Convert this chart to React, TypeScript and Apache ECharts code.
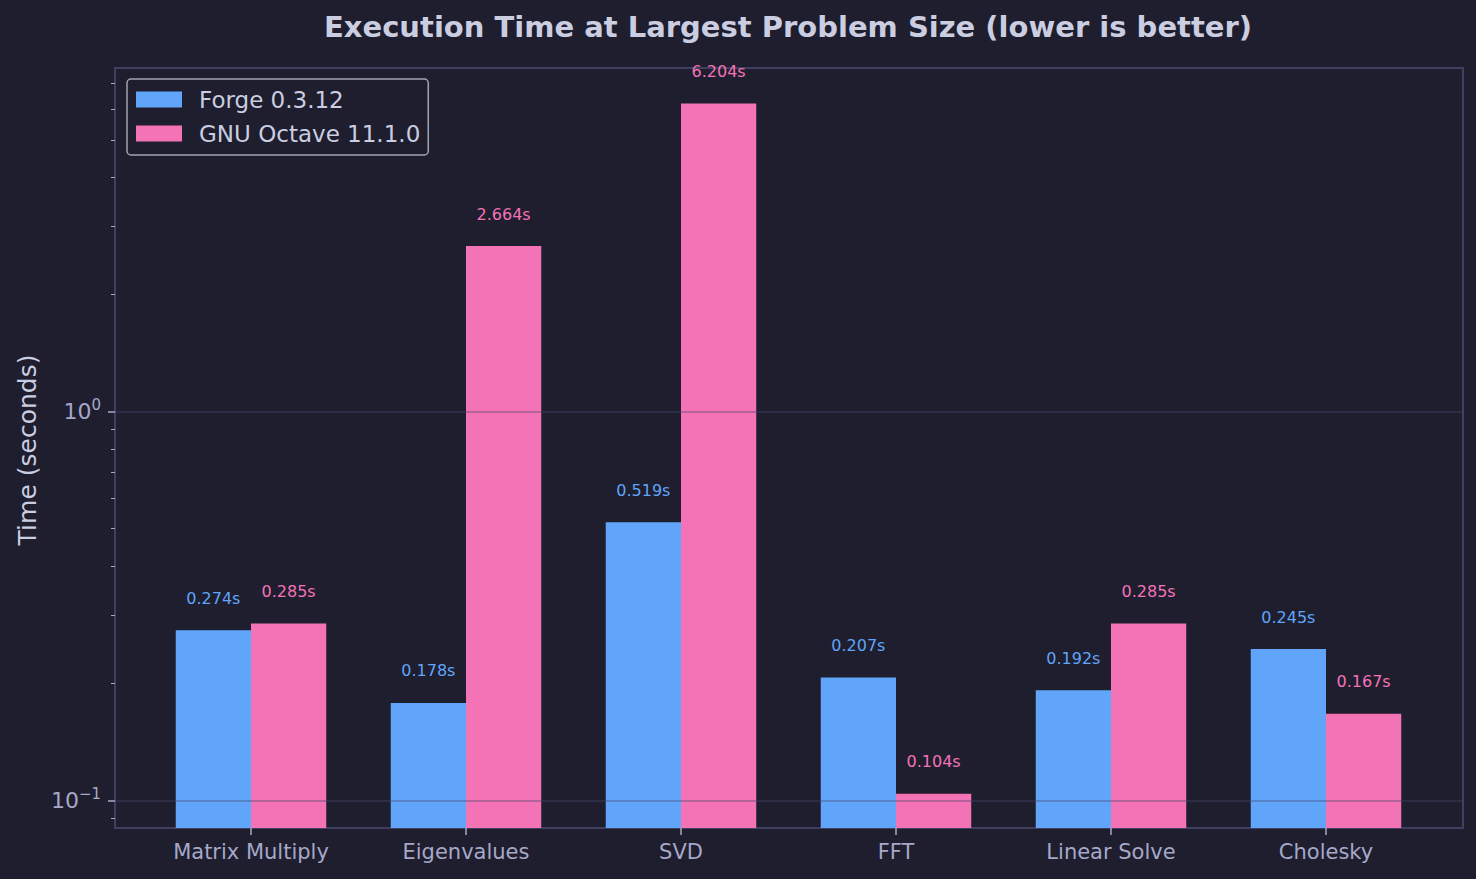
import React, { useEffect, useRef } from "react";
import * as echarts from "echarts";

const TITLE = "Execution Time at Largest Problem Size (lower is better)";
const Y_NAME = "Time (seconds)";
const CATEGORIES = ["Matrix Multiply", "Eigenvalues", "SVD", "FFT", "Linear Solve", "Cholesky"];
const SERIES_NAMES = ["Forge 0.3.12", "GNU Octave 11.1.0"];
const FORGE = [0.274, 0.178, 0.519, 0.207, 0.192, 0.245];
const OCTAVE = [0.285, 2.664, 6.204, 0.104, 0.285, 0.167];
const Y_MIN = 0.0849;
const Y_MAX = 7.65;
// x range chosen so that a category step is exactly 215 px and category centres fall on whole pixels
const X_MIN = -136 / 215;
const X_MAX = (1348 - 136) / 215;
const MAJOR_TICKS = [0.1, 1];
const MINOR_TICKS = [0.09, 0.2, 0.3, 0.4, 0.5, 0.6, 0.7, 0.8, 0.9, 2, 3, 4, 5, 6, 7];

const BG = "#1e1e2e";
const BLUE = "#60a5fa";
const PINK = "#f472b6";
const TICK_COLOR = "#a6a8c8";
const TEXT_COLOR = "#cbcde0";
const FRAME = "#40405e";
const FONT = "DejaVu Sans";

export default function App() {
  const ref = useRef<HTMLDivElement>(null);
  useEffect(() => {
    document.body.style.margin = "0";
    document.body.style.background = BG;
    const chart = echarts.init(ref.current!, null, { renderer: "svg" });
    const lg = (v: number) => Math.log10(v);
    const valueLabel = (color: string) => ({
      show: true,
      position: "top",
      distance: 24,
      color,
      fontFamily: FONT,
      fontSize: 16,
      formatter: (p: any) => Number(p.value[1]).toFixed(3) + "s",
    });
    const option: any = {
      animation: false,
      backgroundColor: BG,
      textStyle: { fontFamily: FONT },
      graphic: [
        {
          type: "text",
          x: 788,
          y: 27,
          style: {
            text: TITLE,
            fill: TEXT_COLOR,
            font: `bold 29px '${FONT}'`,
            textAlign: "center",
            textVerticalAlign: "middle",
          },
        },
      ],
      grid: {
        left: 115,
        right: 13,
        top: 68,
        bottom: 51,
        show: true,
        borderColor: FRAME,
        borderWidth: 2,
        backgroundColor: "transparent",
      },
      legend: {
        orient: "vertical",
        left: 127,
        top: 79,
        padding: [9, 8, 10, 9],
        itemGap: 11,
        itemWidth: 46,
        itemHeight: 16,
        icon: "rect",
        borderColor: "#a4a4ae",
        borderWidth: 1.5,
        borderRadius: 4,
        backgroundColor: "rgba(30,30,46,0.8)",
        textStyle: { color: TEXT_COLOR, fontSize: 23, fontFamily: FONT, padding: [0, 0, 0, 12] },
        data: SERIES_NAMES,
      },
      xAxis: {
        type: "value",
        min: X_MIN,
        max: X_MAX,
        axisLine: { show: false, onZero: false },
        splitLine: { show: false },
        axisTick: {
          show: true,
          customValues: CATEGORIES.map((_, i) => i),
          length: 7,
          lineStyle: { color: TICK_COLOR, width: 1.5 },
        },
        axisLabel: {
          customValues: CATEGORIES.map((_, i) => i),
          formatter: (v: number) => CATEGORIES[Math.round(v)] ?? "",
          color: TICK_COLOR,
          fontSize: 21,
          fontFamily: FONT,
          margin: 13,
        },
      },
      yAxis: [
        {
          type: "log",
          logBase: 10,
          min: Y_MIN,
          max: Y_MAX,
          startValue: Y_MIN,
          position: "right",
          show: false,
          splitLine: { show: false },
        },
        {
          type: "value",
          position: "left",
          min: lg(Y_MIN),
          max: lg(Y_MAX),
          name: Y_NAME,
          nameLocation: "middle",
          nameGap: 75,
          nameRotate: 90,
          nameTextStyle: { color: TEXT_COLOR, fontSize: 25, fontFamily: FONT, padding: [0, 4, 0, 0] },
          axisLine: { show: false, onZero: false },
          splitLine: { show: false },
          axisTick: {
            show: true,
            customValues: MAJOR_TICKS.map(lg),
            length: 7,
            lineStyle: { color: TICK_COLOR, width: 1.5 },
          },
          axisLabel: {
            customValues: MAJOR_TICKS.map(lg),
            margin: 14,
            formatter: (v: number) => {
              const e = Math.round(v);
              return "{b|10}{s|" + (e < 0 ? "\u2212" + Math.abs(e) : String(e)) + "}";
            },
            rich: {
              b: { fontSize: 22, color: TICK_COLOR, fontFamily: FONT, lineHeight: 28 },
              s: { fontSize: 15, color: TICK_COLOR, fontFamily: FONT, verticalAlign: "top", lineHeight: 15 },
            },
          },
        },
        {
          type: "value",
          position: "left",
          min: lg(Y_MIN),
          max: lg(Y_MAX),
          axisLine: { show: false, onZero: false },
          splitLine: { show: false },
          axisLabel: { show: false },
          axisTick: {
            show: true,
            customValues: MINOR_TICKS.map(lg),
            length: 4,
            lineStyle: { color: TICK_COLOR, width: 1 },
          },
        },
      ],
      series: [
        {
          name: SERIES_NAMES[0],
          type: "bar",
          yAxisIndex: 0,
          barWidth: "35%",
          barGap: "0%",
          itemStyle: { color: BLUE },
          label: valueLabel(BLUE),
          data: FORGE.map((v, i) => [i, v]),
          markLine: {
            silent: true,
            symbol: "none",
            label: { show: false },
            lineStyle: { color: "rgba(68,68,108,0.36)", width: 1.8, type: "solid" },
            data: MAJOR_TICKS.map((v) => ({ yAxis: v })),
          },
        },
        {
          name: SERIES_NAMES[1],
          type: "bar",
          yAxisIndex: 0,
          barWidth: "35%",
          barGap: "0%",
          itemStyle: { color: PINK },
          label: valueLabel(PINK),
          data: OCTAVE.map((v, i) => [i, v]),
        },
      ],
    };
    chart.setOption(option);
    return () => chart.dispose();
  }, []);
  return (
    <div
      ref={ref}
      style={{ position: "fixed", left: 0, top: 0, width: 1476, height: 879, background: BG }}
    />
  );
}
